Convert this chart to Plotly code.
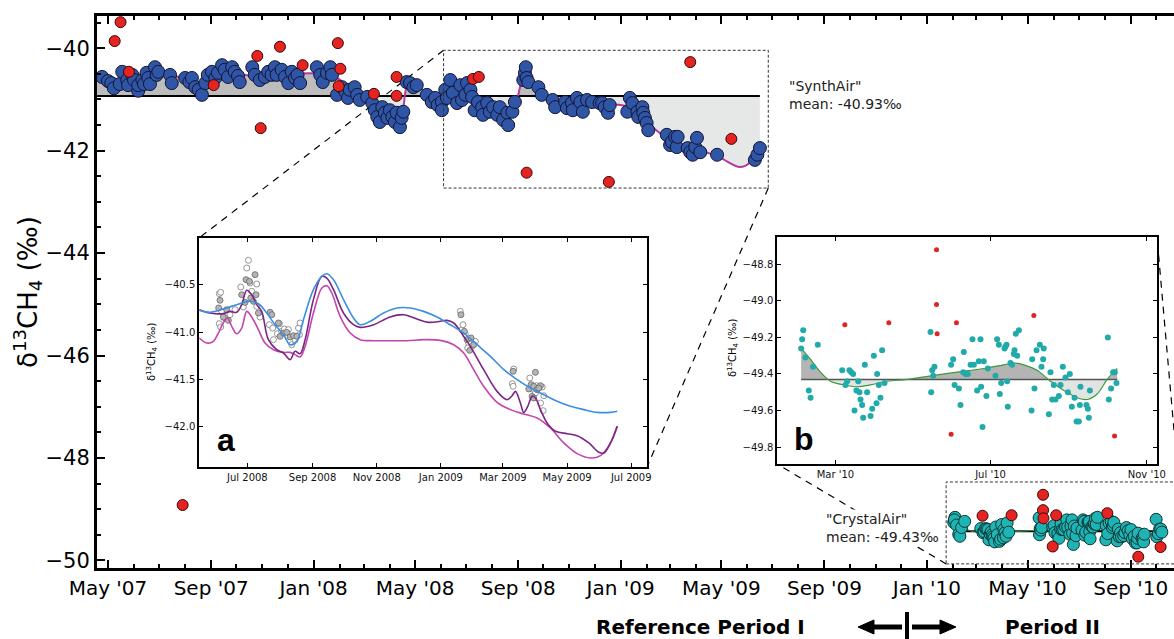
import numpy as np
import pandas as pd
import plotly.graph_objects as go

W, H = 1174, 639

# ------------------------------------------------------------------ data
# SynthAir campaign (main panel); days counted from SYNTH_BASE
SYNTH_BASE = "2007-05-01"
SYNTH_DAY = [-7, 0, 4, 7, 14, 17, 23, 24, 29, 31, 36, 36, 41, 43, 46, 48, 50, 56, 58, 60, 74, 76, 92, 97, 100,
             104, 108, 112, 116, 119, 124, 128, 131, 136, 139, 143, 148, 151, 155, 157, 172, 175, 181, 187, 191, 195,
             199, 201, 207, 211, 215, 219, 223, 226, 229, 249, 253, 256, 261, 265, 267, 273, 279, 283, 286, 288,
             294, 297, 300, 309, 315, 318, 321, 324, 327, 330, 333, 336, 339, 342, 344, 348, 350, 352, 356, 360,
             364, 368, 380, 386, 390, 393, 398, 402,
             398, 404, 408, 411, 416, 420, 422, 426, 428, 432, 434, 437, 441, 446, 447, 452, 455, 459, 464, 467,
             471, 476, 477, 482, 485, 495, 497, 498, 499, 501, 513, 517, 530, 533, 545, 547, 553, 554, 559, 563,
             566, 571, 577, 586,
             589, 592, 596, 598, 619, 622, 625, 631, 632, 637, 638, 640, 642, 644, 666, 670, 672, 676, 678, 679,
             691, 694, 697, 700, 702, 706, 726, 771, 774, 777]
SYNTH_VAL = [-40.56, -40.64, -40.68, -40.78, -40.70, -40.46, -40.62, -40.72, -40.52, -40.62, -40.83, -40.72,
             -40.62, -40.70, -40.48, -40.58, -40.70, -40.37, -40.52, -40.46, -40.52, -40.68, -40.58, -40.66,
             -40.58, -40.76, -40.81, -40.91, -40.68, -40.52, -40.46, -40.58, -40.48, -40.33, -40.42, -40.56,
             -40.37, -40.46, -40.54, -40.66, -40.37, -40.52, -40.62, -40.56, -40.46, -40.52,
             -40.37, -40.52, -40.42, -40.56, -40.68, -40.46, -40.58, -40.52, -40.68, -40.37, -40.52, -40.66,
             -40.48, -40.37, -40.52, -40.91, -40.76, -40.85, -40.97, -40.81, -40.76, -40.91, -41.01, -40.95,
             -41.07, -41.21, -41.34, -41.44, -41.15, -41.26, -41.36, -41.21, -41.34, -41.44, -41.26, -41.54,
             -41.36, -41.24, -40.66, -40.68, -40.76, -40.72, -40.91, -41.05, -40.97, -41.11, -41.05, -40.81,
             -41.21, -40.97, -40.62, -40.87, -41.07, -40.72, -41.01, -40.91, -40.68, -40.81, -40.95, -41.21,
             -41.05, -41.15, -41.30, -41.07, -41.24, -41.15, -41.30, -41.15, -41.40, -41.26, -41.50, -41.24,
             -41.05, -40.62, -40.48, -40.37, -40.58, -40.66, -40.76, -40.91, -41.01, -41.15, -41.05, -41.17,
             -41.07, -41.21, -40.97, -41.05, -41.24, -41.01, -41.05, -41.07,
             -41.07, -41.15, -41.26, -41.11, -41.24, -40.97, -41.07, -41.24, -41.34, -41.15, -41.26, -41.36,
             -41.46, -41.60, -41.69, -41.89, -41.83, -41.73, -41.93, -41.73, -41.95, -42.03, -42.08, -41.93,
             -41.75, -42.03, -42.08, -42.18, -42.08, -41.95]
SYNTH_OUT_DAY = [15, 8, 25, 126, 178, 205, 182, 232, 274, 277, 275, 317, 344, 344, 435, 442, 499, 597, 694, 743, 89]
SYNTH_OUT_VAL = [-39.49, -39.86, -40.46, -40.72, -40.15, -39.97, -41.56, -40.33, -39.90, -40.40, -40.74, -40.89,
                 -40.56, -40.93, -40.60, -40.56, -42.43, -42.61, -40.27, -41.77, -48.92]
SYNTH_FIT_DAY = [-13, 26, 62, 92, 116, 145, 181, 217, 253, 277, 288, 306, 324, 342, 350, 355, 360, 372, 390, 414,
                 432, 449, 473, 485, 495, 503, 513, 533, 563, 598, 622, 646, 670, 706, 730, 753, 766, 777]
SYNTH_FIT_VAL = [-40.62, -40.66, -40.54, -40.58, -40.72, -40.50, -40.56, -40.50, -40.50, -40.62, -40.85, -40.95,
                 -41.15, -41.28, -41.28, -40.81, -40.68, -40.78, -40.93, -40.87, -40.89, -41.15, -41.24, -41.11,
                 -40.58, -40.56, -40.81, -41.01, -41.09, -41.09, -41.15, -41.50, -41.79, -41.99, -42.14, -42.32,
                 -42.22, -41.90]
SYNTH_MEAN = -40.93
SYNTH_MEAN_SPAN = [-13, 777]

# CrystalAir campaign (panel b and boxed part of the main panel); days from CRYSTAL_BASE
CRYSTAL_BASE = "2010-01-01"
CRYSTAL_DAY = [32.0, 33.6, 32.8, 35.4, 38.0, 39.4, 41.4, 45.1, 64.3, 66.9, 68.2, 70.0, 71.4, 72.9, 74.0, 75.5,
               76.9, 77.9, 78.7, 80.0, 80.8, 82.1, 83.9, 86.6, 87.9, 89.2, 91.3, 91.8, 93.1, 94.4, 95.7, 97.6,
               133.8, 134.3, 135.1, 135.9, 136.9, 150.0, 151.6, 152.7, 156.1, 157.4, 159.5, 160.0, 161.3, 163.2,
               165.3, 166.8, 167.9, 170.5, 171.8, 173.1, 173.6, 174.7, 175.7, 177.8, 178.9, 184.9, 186.2, 187.6,
               188.3, 189.4, 192.0, 192.8, 193.6, 194.1, 194.6, 196.7, 198.0, 199.4, 199.9, 200.9, 202.0, 203.3,
               213.8, 213.3, 215.6, 217.2, 219.8, 221.1, 222.4, 222.9, 226.9, 228.2, 229.5, 230.8, 232.1, 234.8,
               236.1, 237.9, 240.0, 241.9, 243.4, 245.0, 247.1, 248.7, 250.5, 251.3, 251.8, 256.5, 257.6, 258.4,
               259.2, 273.3, 274.1, 275.9, 277.5, 278.8, 280.1]
CRYSTAL_VAL = [-49.26, -49.16, -49.21, -49.31, -49.49, -49.53, -49.36, -49.24, -49.38, -49.46, -49.44, -49.38,
               -49.39, -49.40, -49.60, -49.49, -49.44, -49.50, -49.54, -49.57, -49.64, -49.35, -49.50, -49.63,
               -49.59, -49.30, -49.56, -49.40, -49.46, -49.53, -49.27, -49.45,
               -49.17, -49.50, -49.38, -49.41, -49.36, -49.35, -49.32, -49.46, -49.48, -49.57, -49.39, -49.28,
               -49.40, -49.40, -49.35, -49.21, -49.35, -49.49, -49.33, -49.21, -49.47, -49.69, -49.33, -49.52,
               -49.37, -49.41, -49.21, -49.24, -49.51, -49.45, -49.26, -49.25, -49.24, -49.44, -49.58, -49.34,
               -49.35, -49.29, -49.27, -49.18, -49.30, -49.16,
               -49.32, -49.60, -49.48, -49.27, -49.24, -49.36, -49.32, -49.26, -49.62, -49.39, -49.54, -49.46,
               -49.54, -49.52, -49.46, -49.36, -49.42, -49.50, -49.40, -49.58, -49.53, -49.66, -49.66, -49.57,
               -49.47, -49.57, -49.59, -49.64, -49.49, -49.20, -49.54, -49.48, -49.39, -49.39, -49.45]
CRYSTAL_OUT_DAY = [66.4, 101.0, 138.5, 138.5, 139.0, 150.0, 154.2, 215.1, 278.6, 252.0]
CRYSTAL_OUT_VAL = [-49.13, -49.12, -48.72, -49.02, -49.18, -49.73, -49.12, -49.08, -49.74, -49.93]
CRYSTAL_FIT_DAY = [32.0, 39.4, 47.2, 55.1, 65.6, 76.1, 86.6, 99.7, 115.4, 133.8, 154.8, 175.7, 191.5, 199.4,
                   207.2, 217.7, 228.2, 238.7, 249.2, 257.1, 264.9, 272.8, 280.7]
CRYSTAL_FIT_VAL = [-49.26, -49.32, -49.39, -49.44, -49.46, -49.47, -49.46, -49.44, -49.43, -49.41, -49.39,
                   -49.37, -49.35, -49.34, -49.35, -49.38, -49.44, -49.49, -49.53, -49.54, -49.51, -49.43, -49.37]
CRYSTAL_MEAN = -49.43

# Panel a (zoom of SynthAir period); days from ZOOM_BASE
ZOOM_BASE = "2008-07-01"
ZOOM_BLUE_DAY = [-45.7, -35.5, -22.9, -10.2, 1.0, 10.5, 18.4, 26.3, 34.3, 40.6, 47.0, 53.3, 62.8, 70.8, 75.5,
                 81.9, 91.4, 100.9, 107.3, 116.8, 129.5, 142.2, 154.9, 167.6, 180.3, 193.0, 205.7, 218.4, 231.1,
                 243.8, 256.5, 269.2, 281.9, 294.5, 307.2, 319.9, 332.6, 345.3, 351.7]
ZOOM_BLUE_VAL = [-40.771, -40.792, -40.757, -40.711, -40.676, -40.701, -40.799, -40.923, -41.028, -41.134,
                 -41.099, -40.870, -40.553, -40.412, -40.384, -40.447, -40.658, -40.852, -40.923, -40.887,
                 -40.799, -40.746, -40.746, -40.782, -40.842, -40.923, -41.011, -41.134, -41.257, -41.398,
                 -41.503, -41.592, -41.662, -41.732, -41.785, -41.820, -41.849, -41.849, -41.838]
ZOOM_PURPLE_DAY = [-45.7, -35.5, -22.9, -16.5, -10.2, -5.4, -0.6, 4.1, 8.9, 13.6, 20.0, 27.9, 34.3, 40.6, 45.4,
                   50.1, 54.9, 62.8, 70.8, 75.5, 81.9, 91.4, 100.9, 107.3, 120.0, 135.8, 148.5, 161.2, 172.3,
                   183.5, 189.8, 196.2, 205.7, 212.0, 224.7, 237.4, 246.9, 251.7, 254.9, 259.6, 262.8, 266.6,
                   270.7, 273.9, 278.7, 285.0, 293.0, 304.1, 313.6, 324.7, 334.2, 339.0, 345.3, 351.7]
ZOOM_PURPLE_VAL = [-40.764, -40.799, -40.806, -40.782, -40.792, -40.711, -40.560, -40.606, -40.711, -40.782,
                   -41.081, -41.187, -41.222, -41.292, -41.204, -41.229, -41.081, -40.658, -40.412, -40.430,
                   -40.553, -40.799, -40.923, -40.951, -40.923, -40.842, -40.817, -40.863, -40.898, -40.887,
                   -40.877, -40.905, -41.046, -41.151, -41.398, -41.627, -41.715, -41.673, -41.627, -41.750,
                   -41.849, -41.785, -41.680, -41.697, -41.820, -41.961, -42.049, -42.074, -42.095, -42.172,
                   -42.271, -42.278, -42.172, -41.996]
ZOOM_MAGENTA_DAY = [-45.7, -38.7, -32.4, -27.6, -22.9, -19.0, -14.9, -10.2, -5.4, -0.6, 4.1, 10.5, 16.8, 24.8,
                    34.3, 40.6, 45.4, 50.1, 54.9, 62.8, 70.8, 75.5, 80.3, 88.2, 97.8, 107.3, 120.0, 135.8, 151.7,
                    167.6, 183.5, 196.2, 205.7, 215.2, 224.7, 237.4, 250.1, 262.8, 275.5, 288.2, 300.9, 313.6,
                    326.3, 335.8, 345.3, 351.7]
ZOOM_MAGENTA_VAL = [-41.063, -41.116, -41.099, -41.011, -40.905, -40.852, -40.940, -41.018, -40.958, -40.782,
                    -40.842, -40.975, -41.116, -41.187, -41.215, -41.215, -41.239, -41.264, -41.151, -40.799,
                    -40.535, -40.511, -40.588, -40.835, -41.011, -41.081, -41.092, -41.092, -41.092, -41.081,
                    -41.088, -41.134, -41.222, -41.398, -41.574, -41.743, -41.820, -41.866, -41.908, -42.014,
                    -42.172, -42.285, -42.331, -42.306, -42.172, -41.996]
ZOOM_FILLED_DAY = [-26.0, -27.3, -22.9, -19.7, -18.1, -5.4, -2.2, -1.3, 1.9, 3.2, 5.7, 7.3, 8.3, 10.5, 21.6,
                   23.2, 29.5, 31.1, 34.3, 37.5, 40.6, 43.8, 47.0, 203.1, 206.3, 208.9, 211.4, 212.7, 215.2,
                   252.7, 267.6, 269.8, 272.3, 273.9, 275.5, 278.7, 270.7, 272.3, 277.1]
ZOOM_FILLED_VAL = [-40.665, -40.746, -40.842, -40.764, -40.877, -40.606, -40.687, -40.447, -40.465, -40.641,
                   -40.676, -40.394, -40.606, -40.799, -40.792, -40.817, -40.905, -41.046, -41.011, -41.004,
                   -41.053, -41.039, -41.046, -40.817, -40.993, -41.081, -41.194, -41.063, -41.134, -41.415,
                   -41.602, -41.556, -41.574, -41.426, -41.609, -41.567, -41.680, -41.697, -41.592]
ZOOM_OPEN_DAY = [-26.7, -25.4, -24.4, -26.7, -25.4, -21.3, -16.5, -11.7, -6.3, -3.8, -0.6, 1.0, 2.5, 4.1, 8.9,
                 12.1, 8.9, 20.9, 24.1, 28.6, 30.5, 32.7, 35.2, 39.0, 42.2, 45.4, 48.6, 50.1, 49.5, 24.8, 202.5,
                 204.1, 205.0, 207.3, 210.4, 213.6, 216.8, 209.5, 253.3, 252.0, 252.7, 268.5, 270.7, 274.9,
                 280.3, 278.7, 281.2, 281.9, 273.9]
ZOOM_OPEN_VAL = [-40.595, -40.581, -40.782, -40.912, -40.947, -40.852, -40.817, -40.764, -40.525, -40.736,
                 -40.324, -40.243, -40.482, -40.570, -40.493, -40.842, -40.729, -40.923, -40.958, -41.018,
                 -40.912, -40.993, -40.968, -40.975, -41.134, -41.081, -40.958, -40.905, -41.028, -41.081,
                 -40.782, -40.975, -40.923, -41.028, -41.116, -41.151, -41.099, -41.169, -41.391, -41.546,
                 -41.574, -41.486, -41.602, -41.567, -41.581, -41.750, -41.831, -41.673, -41.644]

# ------------------------------------------------------------------ helpers
def dates(base, days):
    return pd.Timestamp(base) + pd.to_timedelta(np.asarray(days, dtype=float), unit="D")


def clip_to_mean(days, vals, mean, side):
    od, ov = [], []
    for i in range(len(days)):
        if i > 0:
            a, b = vals[i - 1] - mean, vals[i] - mean
            if a * b < 0:
                t = a / (a - b)
                od.append(days[i - 1] + t * (days[i] - days[i - 1]))
                ov.append(mean)
        od.append(days[i])
        ov.append(max(vals[i], mean) if side == "above" else min(vals[i], mean))
    return od, ov


def px(x):
    return x / W


def py(y):
    return 1 - y / H


# layout geometry (pixels -> paper)
MAIN_X = [px(97), 1.0]
MAIN_Y = [py(568), py(16)]
MAIN_XR = [pd.Timestamp("2007-04-17 22:00"), pd.Timestamp("2010-10-22 14:00")]
MAIN_YR = [-50.15, -39.37]
A_X = [px(199), px(647)]
A_Y = [py(467), py(238)]
B_X = [px(777), px(1157)]
B_Y = [py(464), py(237)]


def main_paper(date, val):
    d = pd.Timestamp(date)
    fx = (d - MAIN_XR[0]) / (MAIN_XR[1] - MAIN_XR[0])
    fy = (val - MAIN_YR[0]) / (MAIN_YR[1] - MAIN_YR[0])
    return MAIN_X[0] + fx * (MAIN_X[1] - MAIN_X[0]), MAIN_Y[0] + fy * (MAIN_Y[1] - MAIN_Y[0])


fig = go.Figure()

DARK_FILL = "#bdbdbd"
LIGHT_FILL = "#e6e8e8"


def add_fill(days, vals, mean, base, xa, ya, dark, light):
    for side, col in (("above", dark), ("below", light)):
        d, v = clip_to_mean(days, vals, mean, side)
        xd = dates(base, d)
        fig.add_trace(go.Scatter(x=xd, y=[mean] * len(d), mode="lines", line=dict(width=0),
                                 xaxis=xa, yaxis=ya, hoverinfo="skip"))
        fig.add_trace(go.Scatter(x=xd, y=v, mode="lines", line=dict(width=0, shape="spline", smoothing=0.8),
                                 fill="tonexty", fillcolor=col, xaxis=xa, yaxis=ya, hoverinfo="skip"))


# ------------------------------------------------------------------ main panel
add_fill(SYNTH_FIT_DAY, SYNTH_FIT_VAL, SYNTH_MEAN, SYNTH_BASE, "x", "y", DARK_FILL, LIGHT_FILL)
fig.add_trace(go.Scatter(x=dates(SYNTH_BASE, SYNTH_MEAN_SPAN), y=[SYNTH_MEAN] * 2, mode="lines",
                         line=dict(color="black", width=2)))
fig.add_trace(go.Scatter(x=dates(SYNTH_BASE, SYNTH_FIT_DAY), y=SYNTH_FIT_VAL, mode="lines",
                         line=dict(color="#b8379f", width=2, shape="spline", smoothing=0.8)))
fig.add_trace(go.Scatter(x=dates(SYNTH_BASE, SYNTH_DAY), y=SYNTH_VAL, mode="markers",
                         marker=dict(size=13, color="#2f55a6", line=dict(color="#141433", width=1))))
fig.add_trace(go.Scatter(x=dates(SYNTH_BASE, SYNTH_OUT_DAY), y=SYNTH_OUT_VAL, mode="markers",
                         marker=dict(size=11, color="#e52421", line=dict(color="#3a0808", width=1))))

add_fill(CRYSTAL_FIT_DAY, CRYSTAL_FIT_VAL, CRYSTAL_MEAN, CRYSTAL_BASE, "x", "y", DARK_FILL, LIGHT_FILL)
fig.add_trace(go.Scatter(x=dates(CRYSTAL_BASE, [CRYSTAL_FIT_DAY[0], CRYSTAL_FIT_DAY[-1]]), y=[CRYSTAL_MEAN] * 2,
                         mode="lines", line=dict(color="black", width=2)))
fig.add_trace(go.Scatter(x=dates(CRYSTAL_BASE, CRYSTAL_FIT_DAY), y=CRYSTAL_FIT_VAL, mode="lines",
                         line=dict(color="#2e9a3e", width=1, shape="spline")))
fig.add_trace(go.Scatter(x=dates(CRYSTAL_BASE, CRYSTAL_DAY), y=CRYSTAL_VAL, mode="markers",
                         marker=dict(size=12, color="#1fb4b4", line=dict(color="#0c3535", width=1))))
fig.add_trace(go.Scatter(x=dates(CRYSTAL_BASE, CRYSTAL_OUT_DAY), y=CRYSTAL_OUT_VAL, mode="markers",
                         marker=dict(size=11, color="#e52421", line=dict(color="#3a0808", width=1))))

# ------------------------------------------------------------------ inset a
fig.add_trace(go.Scatter(x=dates(ZOOM_BASE, ZOOM_OPEN_DAY), y=ZOOM_OPEN_VAL, mode="markers", xaxis="x2", yaxis="y2",
                         marker=dict(size=6, color="white", line=dict(color="#7a7a7a", width=0.8))))
fig.add_trace(go.Scatter(x=dates(ZOOM_BASE, ZOOM_FILLED_DAY), y=ZOOM_FILLED_VAL, mode="markers", xaxis="x2",
                         yaxis="y2", marker=dict(size=6, color="#b4b4b4", line=dict(color="#666666", width=0.8))))
fig.add_trace(go.Scatter(x=dates(ZOOM_BASE, ZOOM_MAGENTA_DAY), y=ZOOM_MAGENTA_VAL, mode="lines", xaxis="x2",
                         yaxis="y2", line=dict(color="#c445ab", width=1.6, shape="spline")))
fig.add_trace(go.Scatter(x=dates(ZOOM_BASE, ZOOM_PURPLE_DAY), y=ZOOM_PURPLE_VAL, mode="lines", xaxis="x2",
                         yaxis="y2", line=dict(color="#7b2585", width=1.6, shape="spline")))
fig.add_trace(go.Scatter(x=dates(ZOOM_BASE, ZOOM_BLUE_DAY), y=ZOOM_BLUE_VAL, mode="lines", xaxis="x2",
                         yaxis="y2", line=dict(color="#3b8fe0", width=1.6, shape="spline")))

# ------------------------------------------------------------------ inset b
add_fill(CRYSTAL_FIT_DAY, CRYSTAL_FIT_VAL, CRYSTAL_MEAN, CRYSTAL_BASE, "x3", "y3", "#b4b4b4", "#e2e4e4")
fig.add_trace(go.Scatter(x=dates(CRYSTAL_BASE, [CRYSTAL_FIT_DAY[0], CRYSTAL_FIT_DAY[-1]]), y=[CRYSTAL_MEAN] * 2,
                         mode="lines", xaxis="x3", yaxis="y3", line=dict(color="#555555", width=1.5)))
fig.add_trace(go.Scatter(x=dates(CRYSTAL_BASE, CRYSTAL_FIT_DAY), y=CRYSTAL_FIT_VAL, mode="lines", xaxis="x3",
                         yaxis="y3", line=dict(color="#3a9a3a", width=1.2, shape="spline")))
fig.add_trace(go.Scatter(x=dates(CRYSTAL_BASE, CRYSTAL_DAY), y=CRYSTAL_VAL, mode="markers", xaxis="x3",
                         yaxis="y3", marker=dict(size=6, color="#22a9a9")))
fig.add_trace(go.Scatter(x=dates(CRYSTAL_BASE, CRYSTAL_OUT_DAY), y=CRYSTAL_OUT_VAL, mode="markers", xaxis="x3",
                         yaxis="y3", marker=dict(size=5, color="#e02424")))

# ------------------------------------------------------------------ axes
FONT = "DejaVu Sans"
common_small = dict(showgrid=False, zeroline=False, showline=True, linecolor="black", linewidth=1.5,
                    mirror="ticks", ticks="inside", ticklen=4, tickcolor="black",
                    tickfont=dict(size=10, family=FONT, color="#111"))

fig.update_layout(
    width=W, height=H, margin=dict(l=0, r=0, t=0, b=0),
    paper_bgcolor="white", plot_bgcolor="white", showlegend=False,
    font=dict(family=FONT, color="black"),
    xaxis=dict(domain=MAIN_X, anchor="y", type="date", range=MAIN_XR, tick0="2007-05-01", dtick="M4",
               tickformat="%b '%y", ticks="inside", ticklen=8, tickwidth=1.5, tickcolor="black",
               minor=dict(dtick="M1", ticks="inside", ticklen=4, tickcolor="black"),
               showline=True, linewidth=3, linecolor="black", mirror="ticks", showgrid=False, zeroline=False,
               tickfont=dict(size=20, family=FONT), automargin=False),
    yaxis=dict(domain=MAIN_Y, anchor="x", range=MAIN_YR, tick0=-50, dtick=2, ticks="inside", ticklen=8,
               tickwidth=1.5, tickcolor="black",
               minor=dict(dtick=0.5, ticks="inside", ticklen=4, tickcolor="black"),
               showline=True, linewidth=3, linecolor="black", showgrid=False, zeroline=False,
               tickfont=dict(size=21, family=FONT), automargin=False),
    xaxis2=dict(domain=A_X, anchor="y2", type="date", range=["2008-05-16", "2009-07-16"], tick0="2008-07-01",
                dtick="M2", tickformat="%b %Y", automargin=False, **common_small),
    yaxis2=dict(domain=A_Y, anchor="x2", range=[-42.426, -40.007], tick0=-42, dtick=0.5, tickformat=".1f",
                automargin=False, **common_small),
    xaxis3=dict(domain=B_X, anchor="y3", type="date", range=["2010-01-14", "2010-11-09"], tick0="2010-03-01",
                dtick="M4", tickformat="%b '%y", automargin=False, **common_small),
    yaxis3=dict(domain=B_Y, anchor="x3", range=[-49.893, -48.65], tick0=-49.8, dtick=0.2, tickformat=".1f",
                automargin=False, **common_small),
)

# ------------------------------------------------------------------ zoom boxes and connectors
SYNTH_BOX = dict(x0="2008-06-04", x1="2009-06-26", y0=-42.73, y1=-40.04)
CRYSTAL_BOX = dict(x0="2010-01-24", x1="2010-10-28", y0=-50.07, y1=-48.47)
for box in (SYNTH_BOX, CRYSTAL_BOX):
    fig.add_shape(type="rect", xref="x", yref="y", line=dict(color="#333", width=1, dash="3px,2px"), **box)

connectors = [
    (main_paper(SYNTH_BOX["x0"], SYNTH_BOX["y1"]), (A_X[0], A_Y[1])),
    (main_paper(SYNTH_BOX["x1"], SYNTH_BOX["y0"]), (A_X[1], A_Y[0])),
    (main_paper(CRYSTAL_BOX["x0"], CRYSTAL_BOX["y0"]), (B_X[0], B_Y[0])),
    (main_paper(CRYSTAL_BOX["x1"], CRYSTAL_BOX["y1"]), (B_X[1], B_Y[1])),
]
for (x0, y0), (x1, y1) in connectors:
    fig.add_shape(type="line", xref="paper", yref="paper", x0=x0, y0=y0, x1=x1, y1=y1,
                  line=dict(color="black", width=1.2, dash="7px,6px"), layer="below")

# ------------------------------------------------------------------ texts
ann = []
ann.append(dict(x=px(28), y=py(292), text="δ<sup>13</sup>CH<sub>4</sub> (‰)", textangle=-90,
                font=dict(size=26, family=FONT)))
ann.append(dict(x=px(152), y=py(352), text="δ<sup>13</sup>CH<sub>4</sub> (‰)", textangle=-90,
                font=dict(size=10, family=FONT)))
ann.append(dict(x=px(733), y=py(348), text="δ<sup>13</sup>CH<sub>4</sub> (‰)", textangle=-90,
                font=dict(size=10, family=FONT)))
ann.append(dict(x=px(226), y=py(440), text="<b>a</b>", font=dict(size=32, family="Liberation Sans")))
ann.append(dict(x=px(804), y=py(439), text="<b>b</b>", font=dict(size=32, family="Liberation Sans")))
ann.append(dict(x=px(787), y=py(95), xanchor="left", align="left",
                text='"SynthAir"<br>mean: -40.93‰', font=dict(size=14, family=FONT, color="#222")))
ann.append(dict(x=px(941), y=py(528), xanchor="right", align="left", bgcolor="white", borderpad=1,
                text='"CrystalAir"<br>mean: -49.43‰', font=dict(size=14, family=FONT, color="#222")))
ann.append(dict(x=px(700), y=py(627), text="<b>Reference Period I</b>", font=dict(size=20, family=FONT)))
ann.append(dict(x=px(1052), y=py(627), text="<b>Period II</b>", font=dict(size=20, family=FONT)))
for a in ann:
    a.setdefault("xref", "paper")
    a.setdefault("yref", "paper")
    a.setdefault("showarrow", False)
    a.setdefault("xanchor", "center")
    a.setdefault("yanchor", "middle")
    fig.add_annotation(**a)

# arrows around the period separator (drawn as shapes)
AY = 627
for tip, base_x, shaft_end in ((858, 874, 902), (956, 940, 912)):
    fig.add_shape(type="line", xref="paper", yref="paper", x0=px(base_x), x1=px(shaft_end), y0=py(AY), y1=py(AY),
                  line=dict(color="black", width=5))
    path = "M {:.5f} {:.5f} L {:.5f} {:.5f} L {:.5f} {:.5f} Z".format(
        px(tip), py(AY), px(base_x), py(AY - 7), px(base_x), py(AY + 7))
    fig.add_shape(type="path", xref="paper", yref="paper", path=path, fillcolor="black",
                  line=dict(color="black", width=1))
fig.add_shape(type="line", xref="paper", yref="paper", x0=px(907), x1=px(907), y0=py(612), y1=0,
              line=dict(color="black", width=4))

fig.write_html("out.html")
